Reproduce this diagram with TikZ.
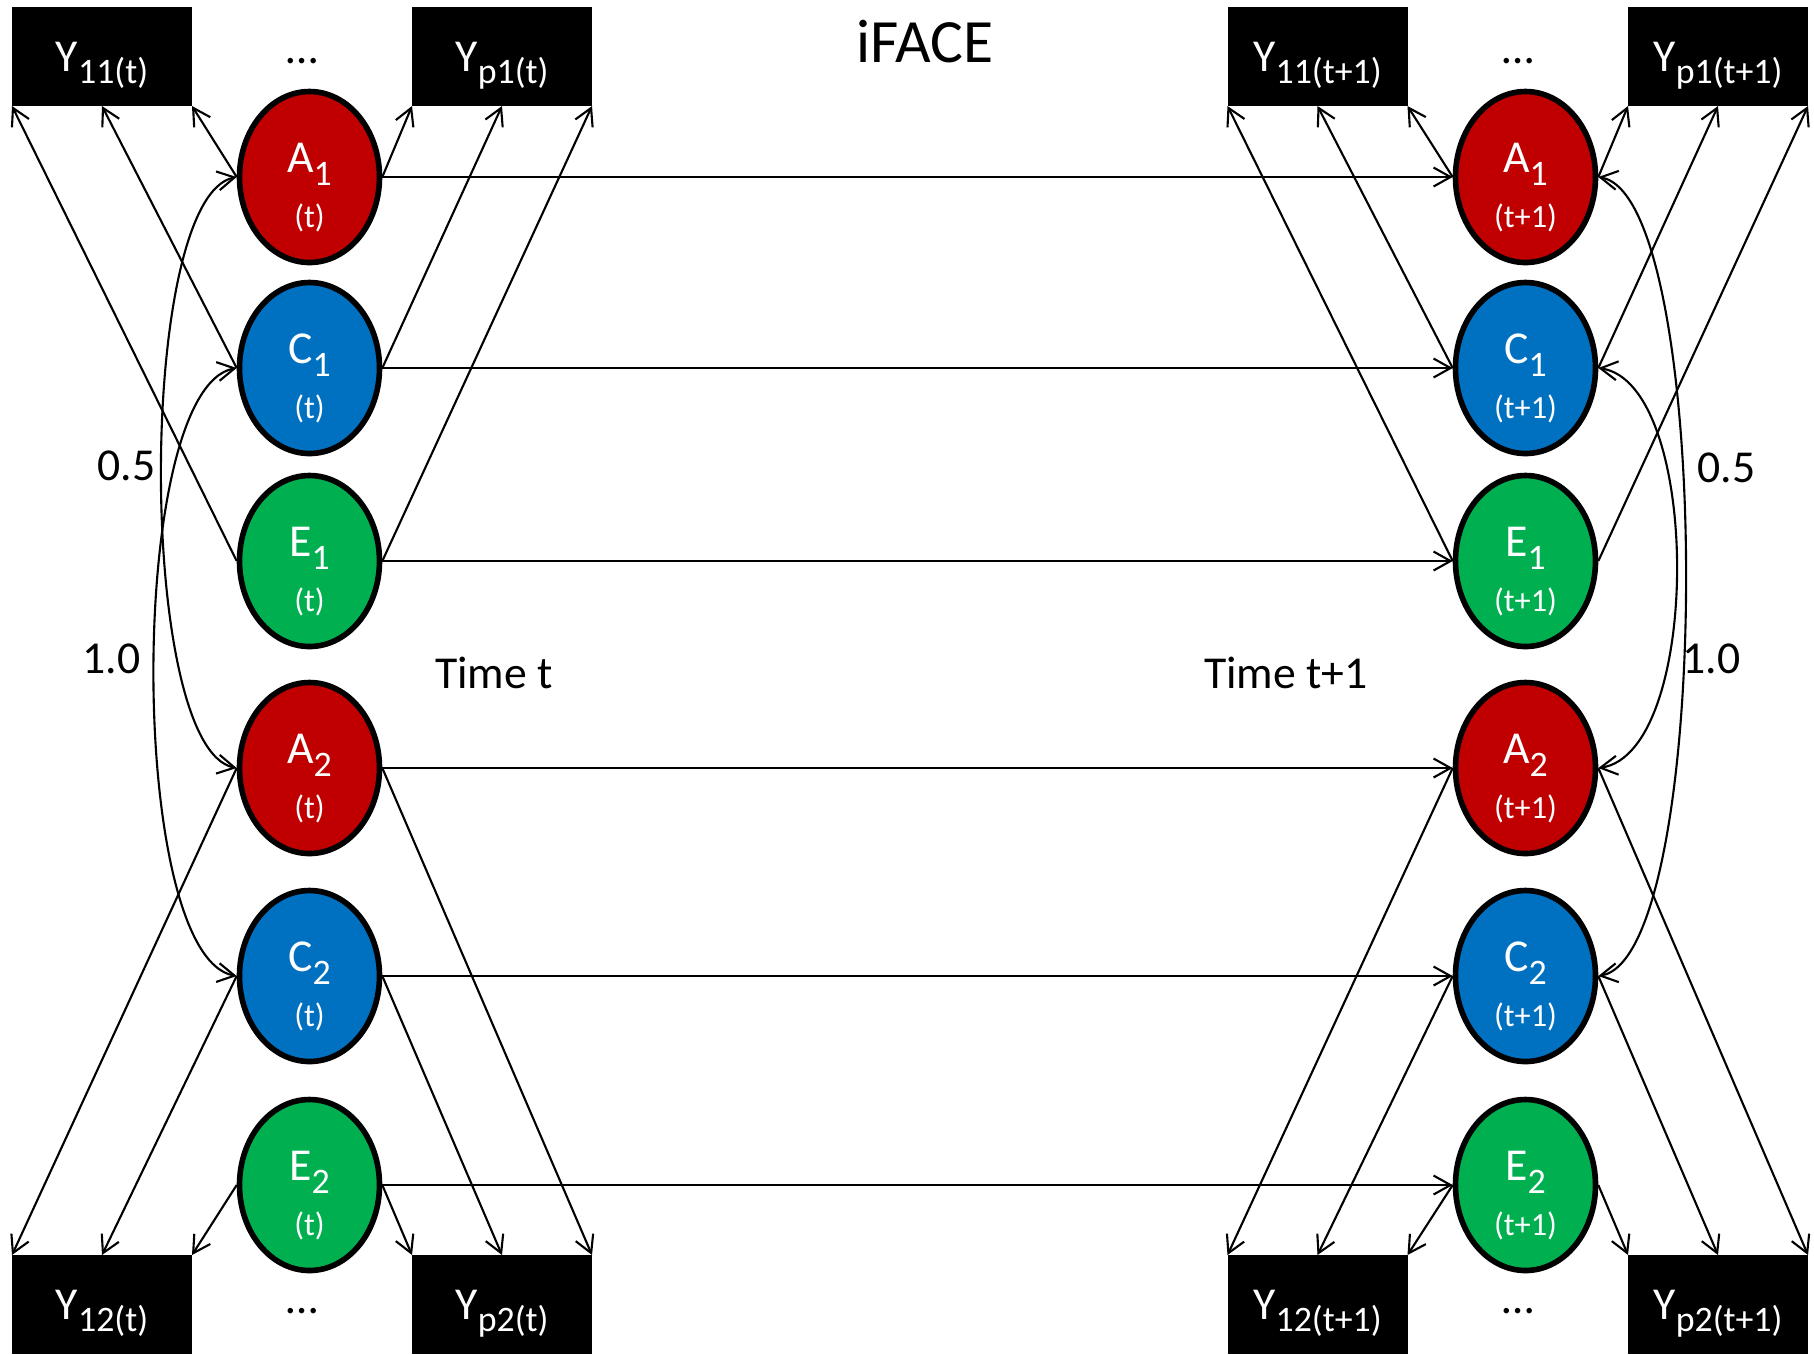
\documentclass[tikz,border=0pt]{standalone}
\usepackage{fontspec}
\setmainfont{Carlito}
\usepackage{tikz}
\usetikzlibrary{shapes.geometric, arrows.meta}
\definecolor{acol}{RGB}{192, 0, 0}
\definecolor{ccol}{RGB}{0, 112, 192}
\definecolor{ecol}{RGB}{0, 176, 80}
\newcommand{\lowsub}[1]{\raisebox{-3.5pt}{\fontsize{10.2}{12}\selectfont #1}}
\newcommand{\latent}[3]{\begin{tabular}[t]{@{}c@{}}#1\lowsub{#2}\\\fontsize{9.2}{10}\selectfont(#3)\end{tabular}}

\begin{document}
\begin{tikzpicture}[x=0.1mm, y=-0.1mm, font=\fontsize{13}{15.4}\selectfont,
  lat/.style={ellipse, draw=black, line width=1.6pt, fill=#1, text=white,
    minimum width=1.40cm, minimum height=1.71cm, inner sep=0pt,
    text height=10pt, text depth=12.3pt},
  obs/.style={rectangle, fill=black, text=white, minimum width=1.80cm,
    minimum height=0.99cm, inner sep=0pt, outer sep=0pt,
    text height=8.6pt, text depth=0pt},
  load/.style={line width=0.6pt, -{Straight Barb[length=1.7mm, width=1.9mm]}},
  cov/.style={line width=0.6pt,
    {Straight Barb[length=1.7mm, width=1.9mm]}-{Straight Barb[length=1.7mm, width=1.9mm]}},
  num/.style={anchor=base}]
  \useasboundingbox (0,0) rectangle (1814,1354);

  % ---- Indicators ----
  \node[obs] (Y11t) at (102,56.5)    {Y\lowsub{11(t)}};
  \node[obs] (Yp1t) at (502,56.5)    {Y\lowsub{p1(t)}};
  \node[obs] (Y12t) at (102,1304.5)  {Y\lowsub{12(t)}};
  \node[obs] (Yp2t) at (502,1304.5)  {Y\lowsub{p2(t)}};
  \node[obs] (Y11n) at (1317.5,56.5)   {Y\lowsub{11(t+1)}};
  \node[obs] (Yp1n) at (1718,56.5)     {Y\lowsub{p1(t+1)}};
  \node[obs] (Y12n) at (1317.5,1304.5) {Y\lowsub{12(t+1)}};
  \node[obs] (Yp2n) at (1718,1304.5)   {Y\lowsub{p2(t+1)}};

  % ---- Latent factors, time t ----
  \node[lat=acol] (A1t) at (309.5,177)  {\latent{A}{1}{t}};
  \node[lat=ccol] (C1t) at (309.5,368)  {\latent{C}{1}{t}};
  \node[lat=ecol] (E1t) at (309.5,561)  {\latent{E}{1}{t}};
  \node[lat=acol] (A2t) at (309.5,768)  {\latent{A}{2}{t}};
  \node[lat=ccol] (C2t) at (309.5,976)  {\latent{C}{2}{t}};
  \node[lat=ecol] (E2t) at (309.5,1185) {\latent{E}{2}{t}};

  % ---- Latent factors, time t+1 ----
  \node[lat=acol] (A1n) at (1525.5,177)  {\latent{A}{1}{t+1}};
  \node[lat=ccol] (C1n) at (1525.5,368)  {\latent{C}{1}{t+1}};
  \node[lat=ecol] (E1n) at (1525.5,561)  {\latent{E}{1}{t+1}};
  \node[lat=acol] (A2n) at (1525.5,768)  {\latent{A}{2}{t+1}};
  \node[lat=ccol] (C2n) at (1525.5,976)  {\latent{C}{2}{t+1}};
  \node[lat=ecol] (E2n) at (1525.5,1185) {\latent{E}{2}{t+1}};

  % ---- Texts ----
  \node[num, font=\fontsize{17.5}{20}\selectfont] (title) at (925,62) {iFACE};
  \node[num] (timet) at (494,688)  {Time t};
  \node[num] (timen) at (1286,688) {Time t+1};
  \node[num] (dotsTL) at (302,63)    {\ldots};
  \node[num] (dotsBL) at (302,1313)  {\ldots};
  \node[num] (dotsTR) at (1518,63)   {\ldots};
  \node[num] (dotsBR) at (1518,1313) {\ldots};
  \node[num] (rAt) at (126.5,480)  {0.5};
  \node[num] (rCt) at (111.5,673)  {1.0};
  \node[num] (rAn) at (1726.5,482) {0.5};
  \node[num] (rCn) at (1711.5,673) {1.0};

  % ---- Factor loadings ----
  \foreach \s in {t,n} {
    \draw[load] (E1\s.west) -- (Y11\s.south west);
    \draw[load] (C1\s.west) -- (Y11\s.south);
    \draw[load] (A1\s.west) -- (Y11\s.south east);
    \draw[load] (A1\s.east) -- (Yp1\s.south west);
    \draw[load] (C1\s.east) -- (Yp1\s.south);
    \draw[load] (E1\s.east) -- (Yp1\s.south east);
    \draw[load] (A2\s.west) -- (Y12\s.north west);
    \draw[load] (C2\s.west) -- (Y12\s.north);
    \draw[load] (E2\s.west) -- (Y12\s.north east);
    \draw[load] (E2\s.east) -- (Yp2\s.north west);
    \draw[load] (C2\s.east) -- (Yp2\s.north);
    \draw[load] (A2\s.east) -- (Yp2\s.north east);
  }

  % ---- t -> t+1 ----
  \foreach \f in {A1,C1,E1,A2,C2,E2}
    \draw[load] (\f t.east) -- (\f n.west);

  % ---- Covariances ----
  \draw[cov] (A1t.west) .. controls +(-100,20) and +(-100,-20) .. (A2t.west);
  \draw[cov] (C1t.west) .. controls +(-110,20) and +(-110,-20) .. (C2t.west);
  \draw[cov] (A1n.east) .. controls +(116,20) and +(116,-20) .. (C2n.east);
  \draw[cov] (C1n.east) .. controls +(104,15) and +(104,-15) .. (A2n.east);
\end{tikzpicture}
\end{document}
